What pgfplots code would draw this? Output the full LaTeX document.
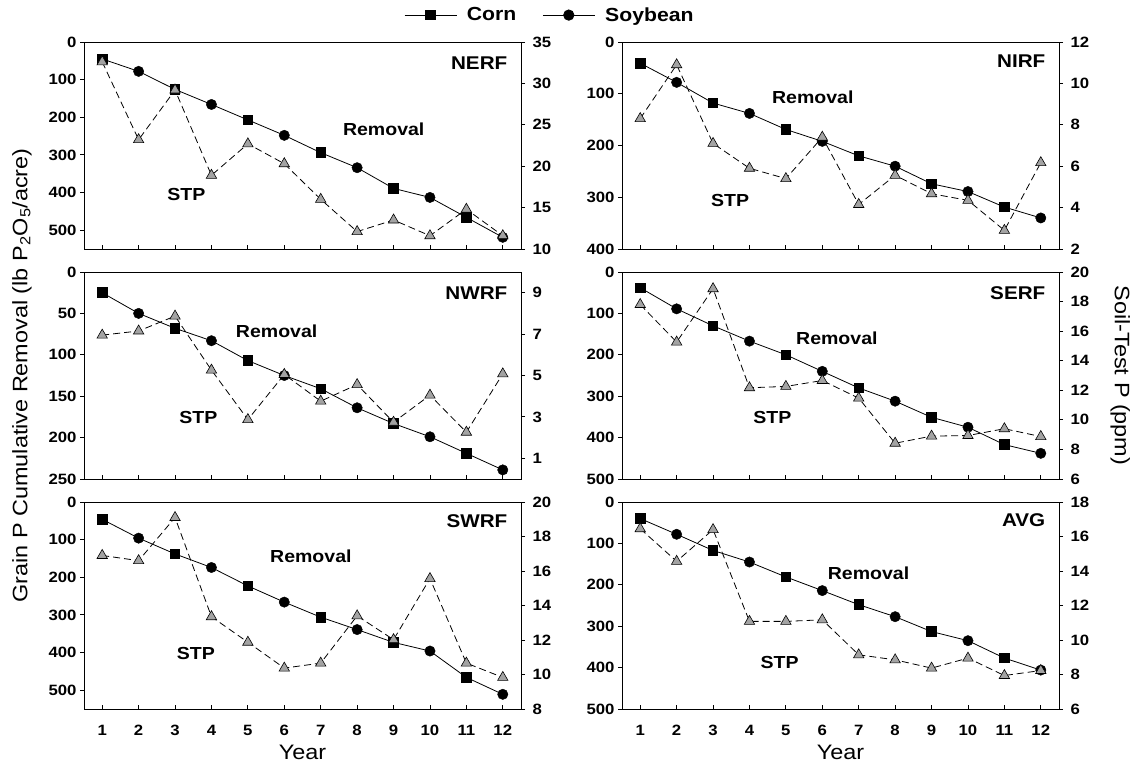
\documentclass[border=0pt]{standalone}
\usepackage{fontspec}
\setmainfont{Liberation Sans}[FakeStretch=1.12]
\usepackage{pgfplots}
\usepackage{pgfplotstable}
\pgfplotsset{compat=1.18}

\definecolor{tri}{rgb}{0.64,0.64,0.64}

% year, cumulative removal, soil-test P
\pgfplotstableread{
yr rem stp
1 45 32.6
2 78 23.2
3 126 29.2
4 166 18.9
5 207 22.7
6 248 20.3
7 294 16.0
8 334 12.1
9 389 13.5
10 413 11.6
11 466 14.8
12 519 11.6
}\nerf
\pgfplotstableread{
yr rem stp
1 41 8.3
2 78 10.9
3 118 7.1
4 138 5.9
5 169 5.4
6 192 7.4
7 220 4.15
8 240 5.56
9 274 4.67
10 289 4.35
11 319 2.9
12 340 6.17
}\nirf
\pgfplotstableread{
yr rem stp
1 25 6.95
2 50 7.15
3 68 7.87
4 83 5.26
5 107 2.87
6 125 5.05
7 141 3.76
8 164 4.56
9 183 2.74
10 199 4.05
11 219 2.26
12 239 5.08
}\nwrf
\pgfplotstableread{
yr rem stp
1 38 17.8
2 89 15.26
3 130 18.87
4 167 12.17
5 200 12.26
6 240 12.66
7 280 11.47
8 312 8.42
9 351 8.9
10 375 8.94
11 417 9.4
12 438 8.87
}\serf
\pgfplotstableread{
yr rem stp
1 46 16.9
2 96 16.6
3 138 19.1
4 174 13.35
5 223 11.87
6 266 10.37
7 306 10.66
8 339 13.4
9 373 12.02
10 396 15.56
11 466 10.66
12 511 9.83
}\swrf
\pgfplotstableread{
yr rem stp
1 40 16.45
2 78 14.56
3 117 16.4
4 145 11.08
5 181 11.08
6 214 11.17
7 248 9.14
8 277 8.85
9 313 8.37
10 335 8.95
11 377 7.94
12 406 8.23
}\avg

\pgfplotsset{
  base/.style={scale only axis, width=437bp, height=207bp,
    xmin=0.5, xmax=12.5, xtick={1,...,12},
    tick align=outside, major tick length=4bp,
    axis line style={line width=0.9bp},
    every tick/.style={line width=0.9bp, black},
    ticklabel style={font=\bfseries\fontsize{15}{15}\selectfont},
    /pgf/number format/assume math mode=true,
    clip=false},
  % x ticks point into the box, y ticks out of it
  remov/.style={base, y dir=reverse, ymin=0, xtick pos=bottom, ytick pos=left,
    xtick style={yshift=4bp}, xticklabel style={yshift=-9bp}},
  stpax/.style={base, axis x line=none, axis y line*=right, ytick pos=right,
    yticklabel style={xshift=4bp}},
  noxlab/.style={xticklabels={}},
  yearlab/.style={xlabel={Year},
    xlabel style={font=\fontsize{21}{21}\selectfont, at={(axis description cs:0.5,-0.21)}, anchor=center}},
  remline/.style={black, line width=0.8bp, mark=square*, mark size=4.8bp, mark repeat=2, mark phase=1},
  soymark/.style={black, only marks, mark=*, mark size=5.2bp, mark repeat=2, mark phase=2},
  stpline/.style={black, line width=0.8bp, dash pattern=on 7bp off 4bp, mark=triangle*, mark size=6bp,
    mark options={solid, fill=tri, draw=black, line width=0.6bp}},
  longleg/.style={legend image code/.code={%
    \draw[mark repeat=2,mark phase=2,##1] plot coordinates {(0bp,0bp) (26bp,0bp) (52bp,0bp)};}},
}
\tikzset{
  lab/.style={font=\bfseries\fontsize{17.5}{17.5}\selectfont},
  site/.style={font=\bfseries\fontsize{18.5}{18.5}\selectfont, anchor=east},
}

\begin{document}
\begin{tikzpicture}
\useasboundingbox (0,0) rectangle (1136bp,765bp);

% ---- NERF
\begin{axis}[remov, noxlab, at={(84bp,516bp)}, anchor=south west, ymax=550, ytick={0,100,...,500},
  legend style={at={(1.066,1.13)}, anchor=center, draw=none, fill=none, legend columns=2,
    font=\bfseries\fontsize{19}{19}\selectfont,
    /tikz/every odd column/.append style={column sep=8bp},
    /tikz/every even column/.append style={column sep=24bp}}]
\addlegendimage{black, line width=0.8bp, mark=square*, mark size=4.8bp, longleg}
\addlegendentry{Corn}
\addlegendimage{black, line width=0.8bp, mark=*, mark size=5.2bp, longleg}
\addlegendentry{Soybean}
\addplot[remline] table[x=yr, y=rem] {\nerf};
\addplot[soymark] table[x=yr, y=rem] {\nerf};
\node[lab] at (axis cs:8.73,232) {Removal};
\node[lab] at (axis cs:3.31,404) {STP};
\node[site] at (axis cs:12.22,55) {NERF};
\end{axis}
\begin{axis}[stpax, at={(84bp,516bp)}, anchor=south west, ymin=10, ymax=35, ytick={10,15,...,35}]
\addplot[stpline] table[x=yr, y=stp] {\nerf};
\end{axis}

% ---- NIRF
\begin{axis}[remov, noxlab, at={(622bp,516bp)}, anchor=south west, ymax=400, ytick={0,100,...,400}]
\addplot[remline] table[x=yr, y=rem] {\nirf};
\addplot[soymark] table[x=yr, y=rem] {\nirf};
\node[lab] at (axis cs:5.74,107) {Removal};
\node[lab] at (axis cs:3.47,306) {STP};
\node[site] at (axis cs:12.22,38) {NIRF};
\end{axis}
\begin{axis}[stpax, at={(622bp,516bp)}, anchor=south west, ymin=2, ymax=12, ytick={2,4,...,12}]
\addplot[stpline] table[x=yr, y=stp] {\nirf};
\end{axis}

% ---- NWRF
\begin{axis}[remov, noxlab, at={(84bp,286bp)}, anchor=south west, ymax=250, ytick={0,50,...,250},
  ylabel={Grain P Cumulative Removal (lb P\textsubscript{2}O\textsubscript{5}/acre)},
  ylabel style={font=\fontsize{21}{21}\selectfont, at={(axis description cs:-0.142,0.5)}, anchor=center}]
\addplot[remline] table[x=yr, y=rem] {\nwrf};
\addplot[soymark] table[x=yr, y=rem] {\nwrf};
\node[lab] at (axis cs:5.79,71) {Removal};
\node[lab] at (axis cs:3.64,176) {STP};
\node[site] at (axis cs:12.22,25) {NWRF};
\end{axis}
\begin{axis}[stpax, at={(84bp,286bp)}, anchor=south west, ymin=0, ymax=10, ytick={1,3,5,7,9}]
\addplot[stpline] table[x=yr, y=stp] {\nwrf};
\end{axis}

% ---- SERF
\begin{axis}[remov, noxlab, at={(622bp,286bp)}, anchor=south west, ymax=500, ytick={0,100,...,500}]
\addplot[remline] table[x=yr, y=rem] {\serf};
\addplot[soymark] table[x=yr, y=rem] {\serf};
\node[lab] at (axis cs:6.4,161) {Removal};
\node[lab] at (axis cs:4.63,351) {STP};
\node[site] at (axis cs:12.22,50) {SERF};
\end{axis}
\begin{axis}[stpax, at={(622bp,286bp)}, anchor=south west, ymin=6, ymax=20, ytick={6,8,...,20},
  ylabel={Soil-Test P (ppm)},
  ylabel style={font=\fontsize{21}{21}\selectfont, at={(axis description cs:1.14,0.5)}, anchor=center, rotate=180}]
\addplot[stpline] table[x=yr, y=stp] {\serf};
\end{axis}

% ---- SWRF
\begin{axis}[remov, yearlab, at={(84bp,56bp)}, anchor=south west, ymax=550, ytick={0,100,...,500}]
\addplot[remline] table[x=yr, y=rem] {\swrf};
\addplot[soymark] table[x=yr, y=rem] {\swrf};
\node[lab] at (axis cs:6.73,143) {Removal};
\node[lab] at (axis cs:3.57,402) {STP};
\node[site] at (axis cs:12.22,50) {SWRF};
\end{axis}
\begin{axis}[stpax, at={(84bp,56bp)}, anchor=south west, ymin=8, ymax=20, ytick={8,10,...,20}]
\addplot[stpline] table[x=yr, y=stp] {\swrf};
\end{axis}

% ---- AVG
\begin{axis}[remov, yearlab, at={(622bp,56bp)}, anchor=south west, ymax=500, ytick={0,100,...,500}]
\addplot[remline] table[x=yr, y=rem] {\avg};
\addplot[soymark] table[x=yr, y=rem] {\avg};
\node[lab] at (axis cs:7.27,173) {Removal};
\node[lab] at (axis cs:4.83,387) {STP};
\node[site] at (axis cs:12.22,45) {AVG};
\end{axis}
\begin{axis}[stpax, at={(622bp,56bp)}, anchor=south west, ymin=6, ymax=18, ytick={6,8,...,18}]
\addplot[stpline] table[x=yr, y=stp] {\avg};
\end{axis}
\end{tikzpicture}
\end{document}
